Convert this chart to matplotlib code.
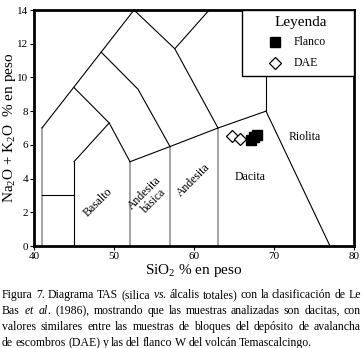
import matplotlib
matplotlib.use("Agg")
import matplotlib.pyplot as plt
from matplotlib.patches import Rectangle

plt.rcParams["font.family"] = ["Liberation Serif", "DejaVu Serif"]
plt.rcParams["mathtext.fontset"] = "custom"
plt.rcParams["mathtext.rm"] = "Liberation Serif"
plt.rcParams["mathtext.it"] = "Liberation Serif:italic"

# TAS field boundaries (Le Bas et al., 1986)
black_lines = [
    ([41, 45], [3, 3]),
    ([45, 45], [0, 5]),
    ([45, 49.4, 52], [5, 7.3, 5]),
    ([41, 52.5], [7, 14]),
    ([45, 49.4], [9.4, 7.3]),
    ([48.4, 53, 57], [11.5, 9.3, 5.9]),
    ([52.5, 57.6, 63], [14, 11.7, 7]),
    ([57.6, 61.9], [11.7, 14]),
    ([52, 57, 63, 69], [5, 5.9, 7, 8]),
    ([69, 77.0], [8, 0]),
    ([69, 69], [8, 13]),
]
grey_lines = [
    ([41, 41], [0, 7]),
    ([52, 52], [0, 5]),
    ([57, 57], [0, 5.9]),
    ([63, 63], [0, 7]),
]

# samples
flanco_x = [67.1, 67.5, 67.9]
flanco_y = [6.3, 6.45, 6.6]
dae_x = [64.8, 65.7]
dae_y = [6.5, 6.35]

fig = plt.figure(figsize=(3.63, 3.48), dpi=100)
ax = fig.add_axes([34 / 363, 102 / 348, 320 / 363, 236 / 348])

for xs, ys in grey_lines:
    ax.plot(xs, ys, color="#a6a6a6", lw=1.5, zorder=1)
for xs, ys in black_lines:
    ax.plot(xs, ys, color="black", lw=0.8, zorder=2)

ax.plot(dae_x, dae_y, "D", ms=6.5, mfc="white", mec="black", mew=0.9, zorder=4)
ax.plot(flanco_x, flanco_y, "s", ms=7, color="black", zorder=5)

# field names
ax.text(48.0, 2.6, "Basalto", rotation=45, ha="center", va="center", fontsize=8.5)
ax.text(54.4, 2.9, "Andesita\nbásica", rotation=45, ha="center", va="center",
        fontsize=8.5, linespacing=1.0)
ax.text(59.9, 3.9, "Andesita", rotation=45, ha="center", va="center", fontsize=8.5)
ax.text(67.0, 4.1, "Dacita", ha="center", va="center", fontsize=8.5)
ax.text(73.9, 6.45, "Riolita", ha="center", va="center", fontsize=8.5)

# legend box
ax.add_patch(Rectangle((66, 10.08), 14, 3.92, facecolor="white",
                       edgecolor="black", lw=1.0, zorder=6))
ax.text(73.3, 13.25, "Leyenda", ha="center", va="center", fontsize=11, zorder=7)
ax.plot([70.1], [12.08], "s", ms=7, color="black", zorder=7)
ax.text(72.4, 12.08, "Flanco", ha="left", va="center", fontsize=8.5, zorder=7)
ax.plot([70.1], [10.87], "D", ms=6.5, mfc="white", mec="black", mew=0.9,
        zorder=7)
ax.text(72.4, 10.87, "DAE", ha="left", va="center", fontsize=8.5, zorder=7)

ax.set_xlim(40, 80)
ax.set_ylim(0, 14)
ax.set_xticks([40, 50, 60, 70, 80])
ax.set_yticks([0, 2, 4, 6, 8, 10, 12, 14])
ax.tick_params(direction="out", length=3, width=0.8, labelsize=8, pad=1)
for s in ax.spines.values():
    s.set_linewidth(2)

ax.set_xlabel("SiO$_2$ % en peso", fontsize=11, labelpad=1)
ax.set_ylabel("Na$_2$O + K$_2$O  % en peso", fontsize=11)
ax.yaxis.set_label_coords(-0.05, 0.5)

caption = [
    "Figura 7. Diagrama TAS (silica $\\it{vs.}$ álcalis totales) con la clasificación de Le",
    "Bas $\\it{et}$ $\\it{al.}$ (1986), mostrando que las muestras analizadas son dacitas, con",
    "valores similares entre las muestras de bloques del depósito de avalancha",
    "de escombros (DAE) y las del flanco W del volcán Temascalcingo.",
]

# justified caption: place words one by one
renderer = fig.canvas.get_renderer()
x0, x1 = 2, 361
for i, line in enumerate(caption):
    y = 1 - (295 + 16 * i) / 348
    words = line.split(" ")
    texts = [fig.text(0, y, w, ha="left", va="center", fontsize=8.45) for w in words]
    widths = [t.get_window_extent(renderer).width for t in texts]
    gap = 2.4
    if i < len(caption) - 1:
        gap = max((x1 - x0 - sum(widths)) / (len(words) - 1), 1.5)
    pos = x0
    for t, w in zip(texts, widths):
        t.set_x(pos / 363)
        pos += w + gap

fig.savefig("out.png", dpi=100)
